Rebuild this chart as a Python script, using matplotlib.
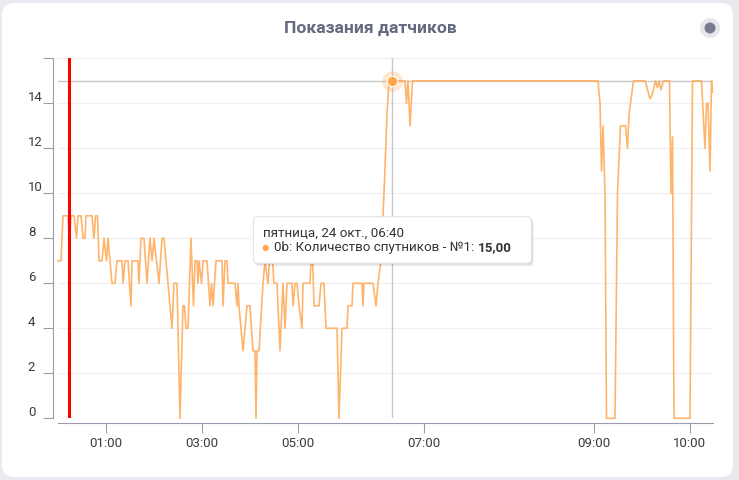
import matplotlib
matplotlib.use('Agg')
import matplotlib.pyplot as plt
from matplotlib.patches import FancyBboxPatch, Circle
from matplotlib.transforms import IdentityTransform, ScaledTranslation

plt.rcParams['font.family'] = ['Roboto', 'DejaVu Sans']

# ordinal axis: position of the point along the axis, and its value
pos = [0, 3, 5, 10, 11.5, 13, 16, 18.5, 20, 23, 25, 27, 28, 34, 36, 37.5, 39.5, 41, 44, 46,
       48.5, 50, 54, 57, 59, 64, 65, 67, 70, 73, 74, 80, 81, 83, 86, 89, 92, 94, 96, 101,
       104, 106, 108, 114, 116, 119, 122, 125, 126.5, 128, 130, 133, 135.5, 137, 139, 140, 141, 143.5, 145, 149,
       152, 153.5, 155, 158, 164, 165, 167, 169, 170, 177, 179, 180, 181, 183, 185, 189, 192, 195, 197, 198,
       199, 201, 205, 207, 210, 213, 216, 219, 222, 225, 227, 229, 234, 235, 237, 239, 241, 244, 245, 249,
       252, 254, 256, 261, 263, 266, 268, 279, 281, 284, 289, 290, 294, 295, 304, 305, 306, 315, 318, 320,
       323, 326, 329, 331, 347, 348.5, 350, 352, 354.5, 540, 542, 543.5, 545, 547, 548.5, 557, 559.5, 561.5, 562.5, 567.5,
       569.5, 571, 572.5, 575.5, 587, 588.5, 589.5, 592, 593.5, 595.5, 597.5, 599.5, 601, 603, 605.5, 611.5, 613, 614.5, 616, 632,
       634.5, 643.5, 647, 648.5, 650, 652, 653.5, 654.5]
val = [7, 7, 9, 9, 8, 9, 9, 8, 9, 9, 8, 8, 9, 9, 8, 9, 9, 7, 7, 8,
       7, 8, 6, 6, 7, 7, 6, 7, 7, 5, 7, 7, 6, 8, 8, 6, 8, 7, 8, 6,
       8, 8, 7, 4, 6, 6, 0, 5, 5, 4, 4, 8, 5, 7, 7, 6, 7, 6, 7, 7,
       5, 6, 5, 7, 7, 5, 7, 7, 6, 6, 5, 6, 5, 4, 3, 5, 5, 3, 3, 0,
       3, 3, 6, 7, 6, 8, 6, 6, 3, 6, 4, 6, 6, 5, 6, 6, 5, 4, 6, 6,
       6, 8, 5, 5, 6, 6, 4, 4, 0, 4, 4, 5, 5, 6, 6, 5, 6, 6, 5, 6,
       7, 10, 13.5, 15, 15, 14, 15, 13, 15, 15, 14, 11, 13, 10, 0, 0, 10, 12, 13, 13,
       12, 13.5, 14, 15, 15, 14.8, 14.6, 14.2, 14.3, 14.6, 15, 14.7, 15, 14.6, 15, 15, 10, 12.5, 0, 0,
       15, 15, 12, 14, 14, 11, 15, 14.5]

tick_pos = [48, 144, 240, 366, 536, 632]
tick_labels = ['01:00', '03:00', '05:00', '07:00', '09:00', '10:00']
y_ticks = [0, 2, 4, 6, 8, 10, 12, 14, 16]
red_line_pos = 11
hover_pos = 334
hover_val = 15.0

W, H = 739, 480
fig = plt.figure(figsize=(W / 100, H / 100), dpi=100, facecolor='#e9e9ef')
px = IdentityTransform()

# white card
fig.patches.append(FancyBboxPatch((2, 3), 731, 474, boxstyle='round,pad=0,rounding_size=12',
                                  transform=px, facecolor='white', edgecolor='none', zorder=-5))

fig.text(370, H - 28, 'Показания датчиков', transform=px, ha='center', va='center',
         fontsize=12.6, fontweight='bold', color='#666a80')
fig.patches.append(Circle((710, H - 28), 10, transform=px, facecolor='#e6e6ec', edgecolor='none', zorder=-4))
fig.patches.append(Circle((710, H - 28), 5.5, transform=px, facecolor='#7a7a8e', edgecolor='none', zorder=-3))

ax = fig.add_axes([57.5 / W, 1 - 418.3 / H, 655 / W, 360 / H])
ax.patch.set_alpha(0)
ax.set_xlim(-0.5, 654.5)
ax.set_ylim(0, 16)

for s in ['top', 'right']:
    ax.spines[s].set_visible(False)
for s in ['left', 'bottom']:
    ax.spines[s].set_position(('outward', 3.6))
    ax.spines[s].set_color('#9c9cb0')
    ax.spines[s].set_linewidth(0.8)

ax.set_yticks(y_ticks)
ax.set_yticklabels([str(v) if v < 16 else '' for v in y_ticks])
ax.set_xticks(tick_pos)
ax.set_xticklabels(tick_labels)
ax.tick_params(axis='both', length=7.2, width=0.8, color='#9c9cb0', labelcolor='#3a3a3a', labelsize=9.5)
ax.tick_params(axis='y', pad=10.5)
ax.tick_params(axis='x', pad=2.5)
for lab in ax.get_yticklabels():
    lab.set_horizontalalignment('left')
    lab.set_transform(lab.get_transform() + ScaledTranslation(0, 0.07, fig.dpi_scale_trans))
ax.grid(axis='y', color='#f0f0f2', linewidth=0.9)
ax.set_axisbelow(True)

ax.axhline(hover_val, color='#c8c8c8', lw=1, zorder=2)
ax.axvline(hover_pos, color='#c8c8c8', lw=1, zorder=2)
ax.plot(pos, val, color='#ffb46c', lw=1.2, zorder=3, clip_on=False, solid_joinstyle='round')
ax.axvline(red_line_pos, color='#ff0000', lw=2.2, zorder=4)
ax.plot([hover_pos], [hover_val], 'o', ms=15, color='#ffa64d', alpha=0.25, mec='none', zorder=5)
ax.plot([hover_pos], [hover_val], 'o', ms=7.5, color='#ffa64d', mec='white', mew=0.8, zorder=6)

# tooltip
bx0, bx1, by0, by1 = 253.5, 531.5, H - 263.3, H - 216.7
for i, a in enumerate([0.05, 0.05, 0.06]):
    fig.patches.append(FancyBboxPatch((bx0 + 1 + i * 0.5, by0 - 1 - i), bx1 - bx0, by1 - by0,
                                      boxstyle='round,pad=0,rounding_size=4', transform=px,
                                      facecolor='black', alpha=a, edgecolor='none', zorder=10))
fig.patches.append(FancyBboxPatch((bx0, by0), bx1 - bx0, by1 - by0, boxstyle='round,pad=0,rounding_size=4',
                                  transform=px, facecolor='white', edgecolor='#e2e2e2', lw=0.8, zorder=11))
fig.text(263, H - 233.3, 'пятница, 24 окт., 06:40', transform=px, va='center', fontsize=9.6,
         color='#333333', zorder=12)
fig.text(265, H - 247.5, '●', transform=px, va='center', ha='center', fontsize=6, color='#ffa64d', zorder=12)
t = fig.text(274.5, H - 247.5, '0b: Количество спутников - №1: ', transform=px, va='center',
             fontsize=9.6, color='#333333', zorder=12)
r = fig.canvas.get_renderer()
x_end = t.get_window_extent(r).x1
fig.text(x_end, H - 247.5, '15,00', transform=px, va='center', fontsize=9.6, fontweight='bold',
         color='#333333', zorder=12)

fig.savefig('out.png', dpi=100, facecolor=fig.get_facecolor())
